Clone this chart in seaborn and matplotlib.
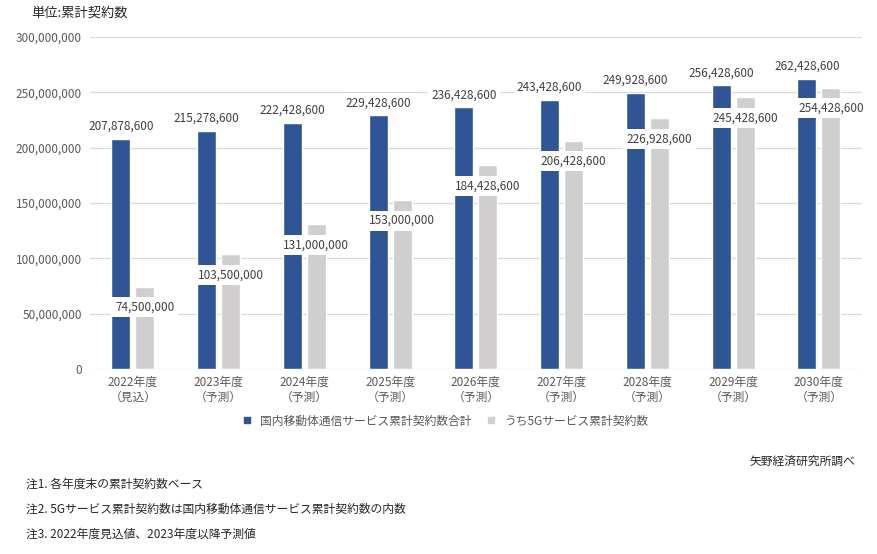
import numpy as np
import pandas as pd
import matplotlib
matplotlib.use('Agg')
import matplotlib.pyplot as plt
import seaborn as sns
from matplotlib.ticker import FuncFormatter
from matplotlib.lines import Line2D

years = ['2022年度\n（見込）', '2023年度\n（予測）', '2024年度\n（予測）', '2025年度\n（予測）',
         '2026年度\n（予測）', '2027年度\n（予測）', '2028年度\n（予測）', '2029年度\n（予測）',
         '2030年度\n（予測）']
total = [207878600, 215278600, 222428600, 229428600, 236428600,
         243428600, 249928600, 256428600, 262428600]
fiveg = [74500000, 103500000, 131000000, 153000000, 184428600,
         206428600, 226928600, 245428600, 254428600]
series = ['国内移動体通信サービス累計契約数合計', 'うち5Gサービス累計契約数']

sns.set_theme(style='white')
plt.rcParams['font.family'] = ['Noto Sans CJK JP', 'DejaVu Sans']

blue = '#2F5597'
grey = '#D0CECE'

df = pd.DataFrame({
    'year': years * 2,
    'value': total + fiveg,
    'series': [series[0]] * len(years) + [series[1]] * len(years),
})

fig = plt.figure(figsize=(8.78, 5.54), dpi=100)
ax = fig.add_axes([0.1025, 0.334, 0.879, 0.599])

sns.barplot(data=df, x='year', y='value', hue='series', palette=[blue, grey],
            width=0.56, gap=0.21, ax=ax, legend=False, saturation=1)

ax.set_ylim(0, 300000000)
ax.set_xlim(-0.5, len(years) - 0.5)
ax.set_yticks(np.arange(0, 300000001, 50000000))
ax.yaxis.set_major_formatter(FuncFormatter(lambda v, p: f'{int(v):,}'))
ax.grid(axis='y', color='#D9D9D9', linewidth=0.9)
ax.set_axisbelow(True)
for s in ax.spines.values():
    s.set_visible(False)
ax.tick_params(axis='y', labelsize=8.5, colors='#595959', length=0, pad=6)
ax.tick_params(axis='x', labelsize=8.5, colors='#595959', length=0, pad=5)
ax.set_xlabel('')
ax.set_ylabel('')

# data labels
bars_total = ax.containers[0]
bars_5g = ax.containers[1]
for bar, v in zip(bars_total, total):
    ax.annotate(f'{v:,}', (bar.get_x() + bar.get_width() / 2, bar.get_height()),
                xytext=(0, 9), textcoords='offset points', ha='center', va='center',
                fontsize=8.5, color='#404040',
                bbox=dict(boxstyle='square,pad=0.25', fc='white', ec='none'))
for bar, v in zip(bars_5g, fiveg):
    ax.annotate(f'{v:,}', (bar.get_x() + bar.get_width() / 2, bar.get_height()),
                xytext=(0, -15), textcoords='offset points', ha='center', va='center',
                fontsize=8.5, color='#404040',
                bbox=dict(boxstyle='square,pad=0.3', fc='white', ec='none'))

fig.text(0.036, 0.976, '単位:累計契約数', fontsize=9.5, color='#262626', va='center')

handles = [Line2D([], [], marker='s', linestyle='', color=c, markersize=5) for c in [blue, grey]]
fig.legend(handles, series, loc='center', bbox_to_anchor=(0.503, 0.24), ncol=2,
           frameon=False, fontsize=8.5, handletextpad=0.1, columnspacing=0.6,
           labelcolor='#595959')

fig.text(0.974, 0.168, '矢野経済研究所調べ', fontsize=8.5, color='#262626', ha='right', va='center')
fig.text(0.03, 0.126, '注1. 各年度末の累計契約数ベース', fontsize=8.5, color='#262626', va='center')
fig.text(0.03, 0.081, '注2. 5Gサービス累計契約数は国内移動体通信サービス累計契約数の内数', fontsize=8.5,
         color='#262626', va='center')
fig.text(0.03, 0.036, '注3. 2022年度見込値、2023年度以降予測値', fontsize=8.5, color='#262626', va='center')

fig.savefig('out.png', dpi=100)
